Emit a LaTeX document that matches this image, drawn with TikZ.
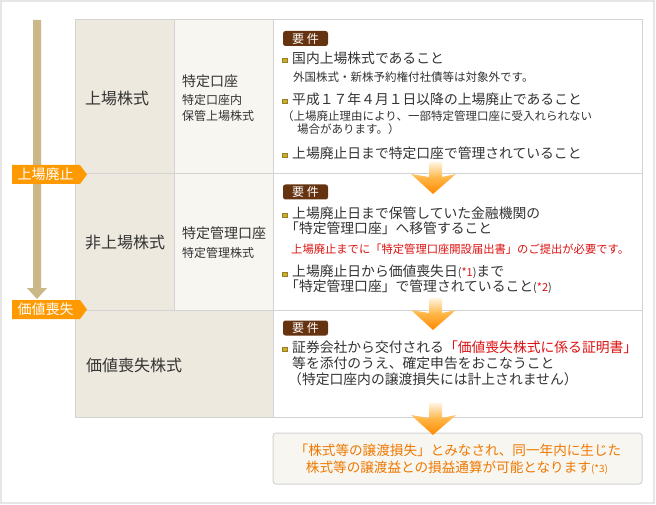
\documentclass[tikz,border=0pt]{standalone}
\usepackage{fontspec}
\setmainfont{Noto Sans CJK JP}
\definecolor{txt}{HTML}{333333}
\definecolor{redt}{HTML}{DD1111}
\definecolor{orat}{HTML}{F07800}
\definecolor{tagc}{HTML}{FF9900}
\definecolor{barc}{HTML}{CBB888}
\definecolor{colA}{HTML}{EDE9DE}
\definecolor{colB}{HTML}{F7F6F1}
\definecolor{gridc}{HTML}{D3D3D3}
\definecolor{framec}{HTML}{E6E6E6}
\definecolor{badgec}{HTML}{663311}
\definecolor{bulc}{HTML}{CCAA33}
\definecolor{buld}{HTML}{9A7F20}
\definecolor{arrTop}{HTML}{FFF4E0}
\definecolor{arrMid}{HTML}{FFB545}
\definecolor{arrBot}{HTML}{FF8A00}
\newcommand\fs[1]{\fontsize{#1}{#1}\selectfont}
\newcommand\downchev[2]{%
  \shade[top color=arrTop, bottom color=arrBot, middle color=arrMid]
    (#1-4,#2) -- (#1+9,#2) -- (#1+9,#2+15) -- (#1+23,#2+12) -- (#1,#2+32)
    -- (#1-22,#2+12) -- (#1-4,#2+15) -- cycle;}
\tikzset{
  txt/.style={anchor=west, inner sep=0, text=txt, font=\fs{13.8}},
  smt/.style={anchor=west, inner sep=0, text=txt, font=\fs{11.5}},
  redl/.style={anchor=west, inner sep=0, text=redt, font=\fs{11.3}},
  big/.style={anchor=west, inner sep=0, text=txt, font=\fs{16}},
  mid/.style={anchor=west, inner sep=0, text=txt, font=\fs{14}},
  sub/.style={anchor=west, inner sep=0, text=txt, font=\fs{12}},
  bul/.style={fill=bulc, draw=buld, line width=0.4, minimum size=4.5, inner sep=0},
  badge/.style={fill=badgec, rounded corners=2.5, minimum width=45, minimum height=15, inner sep=0, text=white, font=\fs{12}},
  fin/.style={inner sep=0, text=orat, font=\fs{13.6}},
  tagtxt/.style={inner sep=0, text=white, font=\fs{14}},
  gridl/.style={draw=gridc, line width=1},
}
\begin{document}
\begin{tikzpicture}[x=1pt,y=-1pt]
\useasboundingbox (0,0) rectangle (656,505);
\fill[white] (0,0) rectangle (656,505);
\draw[framec, line width=1.5] (1,1) rectangle (654,503);
% table cells
\fill[colA] (75,20) rectangle (174,310);
\fill[colB] (174,20) rectangle (273,310);
\fill[colA] (75,310) rectangle (273,417);
\draw[gridl] (75,20) rectangle (642,417);
\draw[gridl] (75,174) -- (642,174);
\draw[gridl] (75,310) -- (642,310);
\draw[gridl] (174,20) -- (174,310);
\draw[gridl] (273,20) -- (273,417);
% final box
\draw[draw=gridc, fill=colB, rounded corners=3, line width=1] (273,433) rectangle (642,484);
% timeline bar
\fill[barc] (33,20) -- (41,20) -- (41,288) -- (47,288) -- (37,299) -- (27,288) -- (33,288) -- cycle;
% tags
\fill[tagc] (12,165) -- (80,165) -- (87,174.5) -- (80,184) -- (12,184) -- cycle;
\node[tagtxt] (tag1) at (45.5,174.5) {上場廃止};
\fill[tagc] (12,300) -- (80,300) -- (87,309.5) -- (80,319) -- (12,319) -- cycle;
\node[tagtxt] (tag2) at (45.5,309.5) {価値喪失};
% column labels
\node[big] (l1) at (85,98) {上場株式};
\node[mid] (a1) at (182,81) {特定口座};
\node[sub] (a2) at (182,100) {特定口座内};
\node[sub] (a3) at (182,116) {保管上場株式};
\node[big] (l2) at (85,243) {非上場株式};
\node[mid] (b1) at (182,233) {特定管理口座};
\node[sub] (b2) at (182,253) {特定管理株式};
\node[big] (l3) at (86,365) {価値喪失株式};
% row 1 requirements
\node[badge] (k1) at (305.5,38.5) {要 件};
\node[bul] (p11) at (284.5,60) {};
\node[txt] (r11) at (292,58) {国内上場株式であること};
\node[smt] (r12) at (293,77) {外国株式・新株予約権付社債等は対象外です。};
\node[bul] (p12) at (284.5,101) {};
\node[txt] (r13) at (292,99) {平成１７年４月１日以降の上場廃止であること};
\node[smt] (r14) at (282,116) {（上場廃止理由により、一部特定管理口座に受入れられない};
\node[smt] (r15) at (297,129) {場合があります。）};
\node[bul] (p13) at (284.5,155) {};
\node[txt] (r16) at (292,153) {上場廃止日まで特定口座で管理されていること};
% row 2 requirements
\node[badge] (k2) at (305.5,192) {要 件};
\node[bul] (p21) at (284.5,215) {};
\node[txt] (r21) at (292,213) {上場廃止日まで保管していた金融機関の};
\node[txt] (r22) at (285,228) {「特定管理口座」へ移管すること};
\node[redl] (r23) at (291,249) {上場廃止までに「特定管理口座開設届出書」のご提出が必要です。};
\node[bul] (p22) at (284.5,274) {};
\node[txt] (r24) at (292,272) {上場廃止日から価値喪失日{\fs{11}(\textcolor{redt}{*1})}まで};
\node[txt] (r25) at (285,287) {「特定管理口座」で管理されていること{\fs{11}(\textcolor{redt}{*2})}};
% row 3 requirements
\node[badge] (k3) at (305.5,328) {要 件};
\node[bul] (p31) at (284.5,349) {};
\node[txt] (r31) at (292,347) {証券会社から交付される\textcolor{redt}{「価値喪失株式に係る証明書」}};
\node[txt] (r32) at (292,363) {等を添付のうえ、確定申告をおこなうこと};
\node[txt] (r33) at (288,379) {（特定口座内の譲渡損失には計上されません）};
% final text
\node[fin] (f1) at (458,450) {「株式等の譲渡損失」とみなされ、同一年内に生じた};
\node[fin] (f2) at (457,468) {株式等の譲渡益との損益通算が可能となります{\fs{10}(*3)}};
% down arrows
\downchev{433}{162}
\downchev{433}{298}
\downchev{433}{403}
\end{tikzpicture}
\end{document}
